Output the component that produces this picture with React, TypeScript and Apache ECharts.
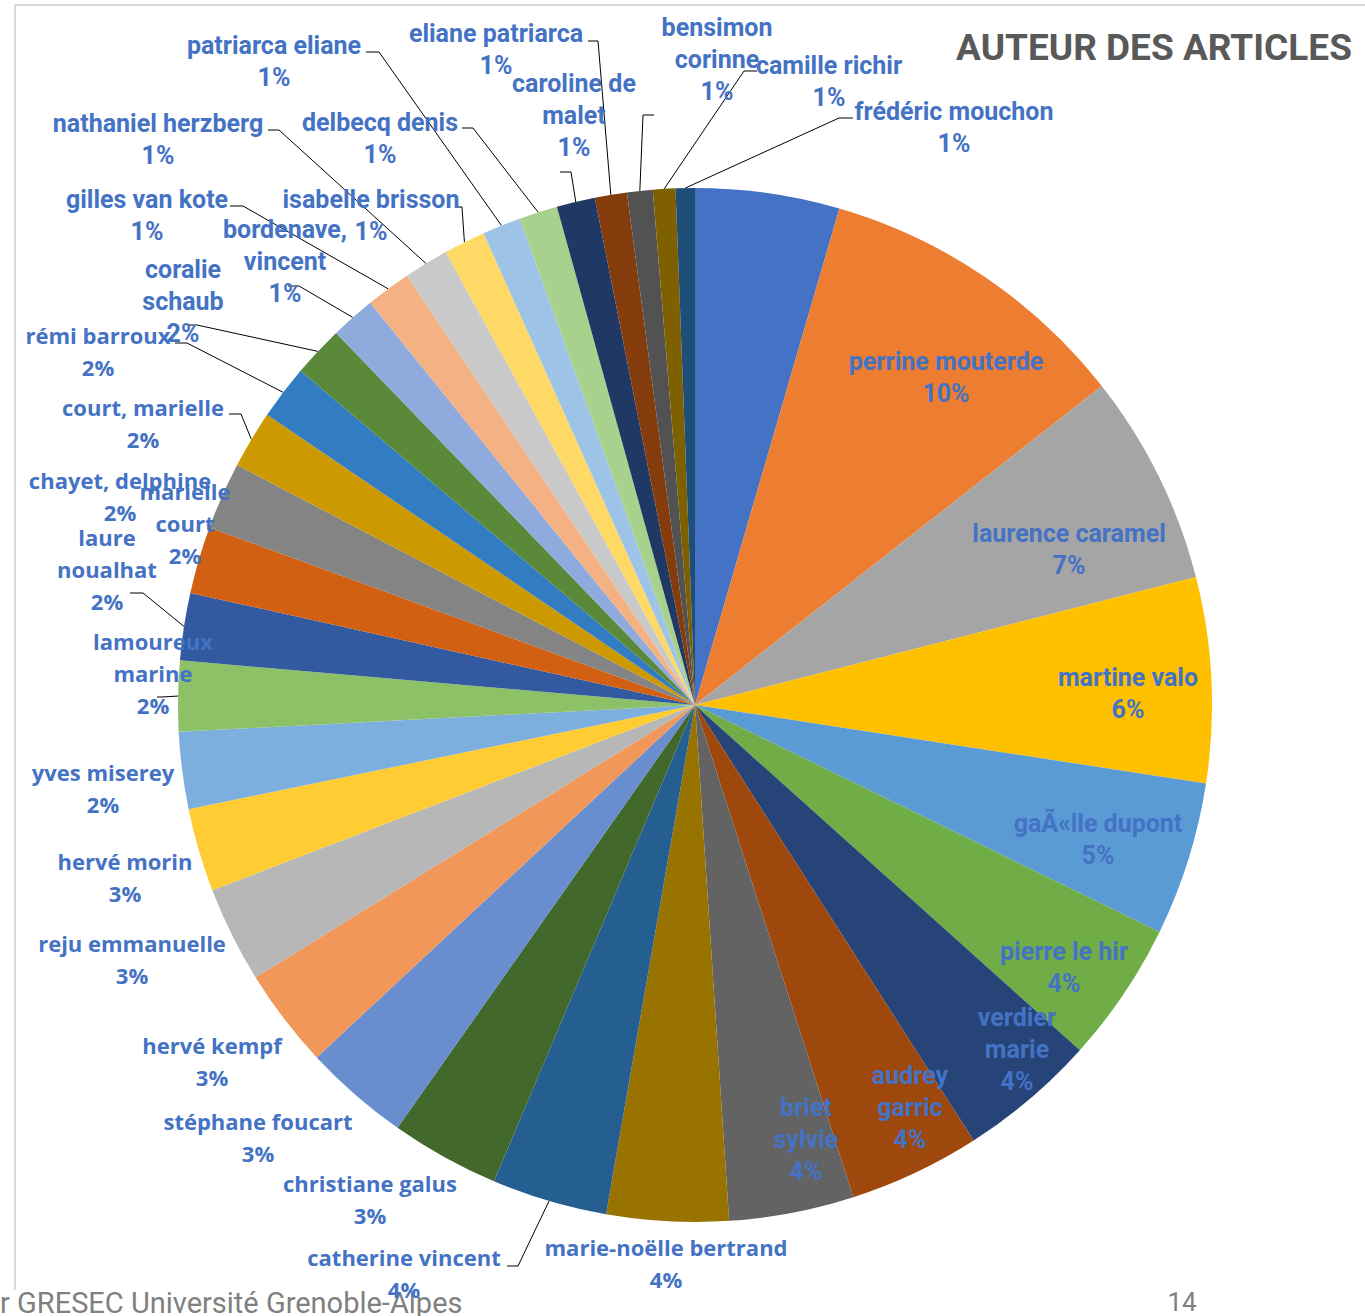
import React, { useEffect, useRef } from "react";
import * as echarts from "echarts";

// ---- data ----
const authors = [
  "",
  "perrine mouterde",
  "laurence caramel",
  "martine valo",
  "gaÃ«lle dupont",
  "pierre le hir",
  "verdier marie",
  "audrey garric",
  "briet sylvie",
  "marie-noëlle bertrand",
  "catherine vincent",
  "christiane galus",
  "stéphane foucart",
  "hervé kempf",
  "reju emmanuelle",
  "hervé morin",
  "yves miserey",
  "lamoureux marine",
  "laure noualhat",
  "marielle court",
  "chayet, delphine",
  "court, marielle",
  "rémi barroux",
  "coralie schaub",
  "bordenave, vincent",
  "gilles van kote",
  "nathaniel herzberg",
  "isabelle brisson",
  "patriarca eliane",
  "delbecq denis",
  "caroline de malet",
  "eliane patriarca",
  "bensimon corinne",
  "camille richir",
  "frédéric mouchon",
];

const articles = [
  45, 99, 66, 64, 48, 44, 43, 41, 39, 38, 36, 34, 33, 31, 30, 26, 24, 22, 21, 21,
  21, 18, 17, 16, 14, 14, 14, 13, 12, 12, 12, 10, 8, 7, 6,
];

// ---- styles / layout ----
const sliceColors = [
  "#4472C4", "#ED7D31", "#A5A5A5", "#FFC000", "#5B9BD5", "#70AD47", "#264478",
  "#9E480E", "#636363", "#997300", "#255E91", "#43682B", "#698ED0", "#F1975A",
  "#B7B7B7", "#FFCD33", "#7CAFDD", "#8CC168", "#335AA1", "#D26012", "#848484",
  "#CC9A00", "#327DC2", "#5A8A39", "#8FAADC", "#F4B183", "#C9C9C9", "#FFD966",
  "#9DC3E6", "#A9D18E", "#203864", "#843C0C", "#525252", "#7F6000", "#1F4E79",
];

// label centre positions (px)
const labelPos: (number[] | null)[] = [
  null,
  [946, 377], [1069, 549], [1128, 693], [1098, 839], [1064, 967],
  [1017, 1049], [910, 1107], [806, 1139], [666, 1263], [404, 1273],
  [370, 1199], [258, 1137], [212, 1061], [132, 959], [125, 877],
  [103, 788], [153, 673], [107, 569], [185, 523], [120, 496],
  [143, 423], [98, 351], [183, 301], [285, 261], [147, 215],
  [158, 139], [371, 215], [274, 61], [380, 138], [574, 115],
  [496, 49], [717, 59], [829, 81], [954, 127],
];

// leader lines: [elbow, end near label]
const leaders: (number[][] | null)[] = [
  null, null, null, null, null, null, null, null, null, null,
  [[518, 1266], [507, 1266]],
  null, null, null, null, null, null,
  [[162, 697], [157, 697]],
  [[143, 593], [130, 593]],
  null, null,
  [[241, 414], [229, 414]],
  [[187, 343], [175, 343]],
  [[197, 325], [188, 325]],
  [[299, 286], [288, 286]],
  [[243, 206], [230, 206]],
  [[279, 130], [268, 130]],
  [[462, 207], [457, 207]],
  [[379, 52], [366, 52]],
  [[473, 128], [462, 128]],
  [[571, 172], [560, 172]],
  [[598, 41], [588, 41]],
  [[643, 115], [654, 115]],
  [[744, 71], [757, 71]],
  [[839, 118], [853, 118]],
];

// W = wide font, N = narrow font
const fontKind = "xNNNNNNNNWWWWWWWWWWWWWWNNNNNNNNNNNN";
// wrap name at last space
const wrapName = [
  0, 0, 0, 0, 0, 0, 1, 1, 1, 0, 0, 0, 0, 0, 0, 0, 0, 1, 1, 1,
  0, 0, 0, 1, 1, 0, 0, 0, 0, 0, 1, 0, 1, 0, 0,
];

const NARROW = '"Liberation Sans Narrow", "Arial Narrow", Roboto, sans-serif';
const WIDE = '"Open Sans", "DejaVu Sans", sans-serif';

const CX = 695;
const CY = 705;
const R = 517;

export default function App() {
  const ref = useRef<HTMLDivElement>(null);

  useEffect(() => {
    if (!ref.current) return;
    const chart = echarts.init(ref.current, null, { renderer: "svg" });
    const total = articles.reduce((a, b) => a + b, 0);
    const cum: number[] = [];
    let acc = 0;
    articles.forEach((v) => {
      cum.push(acc + v / 2);
      acc += v;
    });

    const data = authors.map((name, i) => {
      const narrow = fontKind[i] === "N";
      return {
        name,
        value: articles[i],
        itemStyle: { color: sliceColors[i] },
        label: {
          show: i !== 0,
          fontFamily: narrow ? NARROW : WIDE,
          fontSize: narrow ? 25 : 22,
          fontWeight: "bold",
          lineHeight: 32,
        },
        labelLine: { show: !!leaders[i] },
      };
    });

    chart.setOption({
      animation: false,
      backgroundColor: "#ffffff",
      graphic: [
        {
          type: "line",
          shape: { x1: 15, y1: 5, x2: 1365, y2: 5 },
          style: { stroke: "#d9d9d9", lineWidth: 2 },
        },
        {
          type: "line",
          shape: { x1: 15, y1: 5, x2: 15, y2: 1290 },
          style: { stroke: "#d9d9d9", lineWidth: 2 },
        },
        {
          type: "text",
          x: 1154,
          y: 47,
          style: {
            text: "AUTEUR DES ARTICLES",
            fill: "#595959",
            font: 'bold 37px ' + NARROW,
            align: "center",
            verticalAlign: "middle",
          },
        },
        {
          type: "text",
          x: 0,
          y: 1303,
          style: {
            text: "r GRESEC Université Grenoble-Alpes",
            fill: "#808080",
            font: '29px ' + NARROW,
            align: "left",
            verticalAlign: "middle",
          },
        },
        {
          type: "text",
          x: 1182,
          y: 1302,
          style: {
            text: "14",
            fill: "#808080",
            font: '26px ' + NARROW,
            align: "center",
            verticalAlign: "middle",
          },
        },
      ],
      series: [
        {
          type: "pie",
          center: [CX, CY],
          radius: [0, R],
          startAngle: 90,
          clockwise: true,
          avoidLabelOverlap: false,
          percentPrecision: 4,
          itemStyle: { borderWidth: 0 },
          label: {
            position: "outside",
            color: "#4472C4",
            formatter: (p: any) => {
              const i = p.dataIndex;
              let nm: string = authors[i];
              if (wrapName[i]) {
                const k = nm.lastIndexOf(" ");
                nm = nm.slice(0, k) + "\n" + nm.slice(k + 1);
              }
              return nm + "\n" + Math.round((articles[i] / total) * 100) + "%";
            },
          },
          labelLine: {
            show: true,
            length: 10,
            length2: 10,
            lineStyle: { color: "#000000", width: 1 },
          },
          labelLayout: (params: any) => {
            const i = params.dataIndex;
            const pos = labelPos[i];
            if (!pos) return {};
            const out: any = {
              x: pos[0],
              y: pos[1],
              align: "center",
              verticalAlign: "middle",
            };
            const ld = leaders[i];
            if (ld) {
              const ang = (cum[i] / total) * Math.PI * 2;
              const arc =
                params.labelLinePoints && params.labelLinePoints[0]
                  ? params.labelLinePoints[0]
                  : [CX + R * Math.sin(ang), CY - R * Math.cos(ang)];
              out.labelLinePoints = [arc, ld[0], ld[1]];
            }
            return out;
          },
          data,
        },
      ],
    });
    return () => chart.dispose();
  }, []);

  return (
    <div
      ref={ref}
      style={{ position: "fixed", left: 0, top: 0, width: 1365, height: 1316 }}
    />
  );
}
